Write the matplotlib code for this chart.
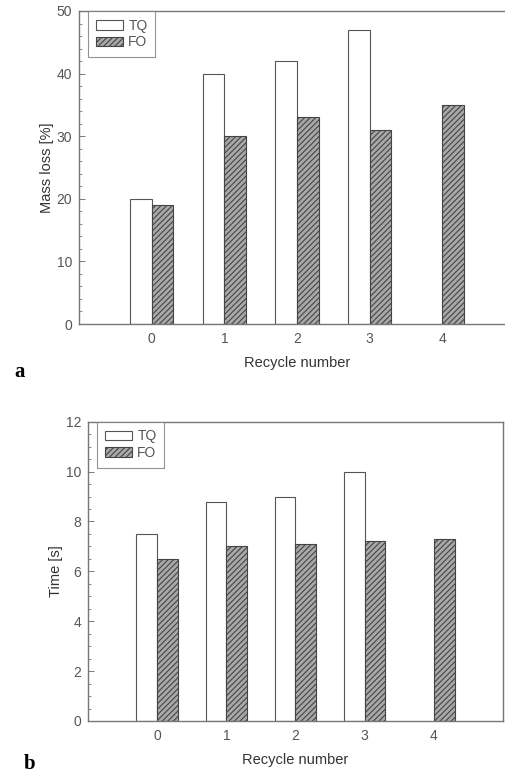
import numpy as np
import matplotlib
matplotlib.use("Agg")
import matplotlib.pyplot as plt
from matplotlib.ticker import MultipleLocator

# data
recycles = [0, 1, 2, 3, 4]
tq_recycles = [0, 1, 2, 3]
mass_loss_tq = [20, 40, 42, 47]
mass_loss_fo = [19, 30, 33, 31, 35]
time_tq = [7.5, 8.8, 9.0, 10.0]
time_fo = [6.5, 7.0, 7.1, 7.2, 7.3]

plt.rcParams['font.family'] = ['Liberation Sans', 'DejaVu Sans']
plt.rcParams['hatch.linewidth'] = 0.8
plt.rcParams['hatch.color'] = '#3a3a3a'

GREY = '#555555'
SPINE = '#777777'
W = 0.3

fig = plt.figure(figsize=(5.06, 7.73), dpi=100)
ax1 = fig.add_axes([79/506, 1-324/773, 436/506, 313/773])
ax2 = fig.add_axes([88/506, 1-721/773, 415/506, 299.3/773])


def draw(ax, tq, fo, ymax, major, minor, ylabel, leg_dx):
    x_tq = np.array(tq_recycles) - W/2
    x_fo = np.array(recycles) + W/2
    ax.bar(x_tq, tq, width=W, color='white', edgecolor='#555555',
           linewidth=0.8, label='TQ')
    ax.bar(x_fo, fo, width=W, color='#a8a8a8', edgecolor='#444444',
           linewidth=0.8, hatch='//////', label='FO')
    ax.set_xlim(-1, 5)
    ax.set_ylim(0, ymax)
    ax.set_xticks(recycles)
    ax.yaxis.set_major_locator(MultipleLocator(major))
    ax.yaxis.set_minor_locator(MultipleLocator(minor))
    ax.tick_params(axis='y', which='both', direction='in', colors=SPINE,
                   labelcolor=GREY, labelsize=10, right=False, pad=5)
    ax.tick_params(axis='y', which='major', length=4, width=0.7)
    ax.tick_params(axis='y', which='minor', length=2.5, width=0.6)
    ax.tick_params(axis='x', length=0, labelcolor=GREY, labelsize=10, pad=6)
    for s in ax.spines.values():
        s.set_color(SPINE)
        s.set_linewidth(1.0)
    ax.set_xlabel('Recycle number', color='#333333', fontsize=10.5, labelpad=7)
    ax.set_ylabel(ylabel, color='#333333', fontsize=10.5, labelpad=2)
    leg = ax.legend(loc='upper left', bbox_to_anchor=(leg_dx, 1.0),
                    fontsize=10, frameon=True, fancybox=False,
                    handlelength=2.0, handleheight=0.7, borderpad=0.55,
                    labelspacing=0.2, handletextpad=0.35, borderaxespad=0)
    leg.get_frame().set_edgecolor(SPINE)
    leg.get_frame().set_linewidth(0.8)
    for t in leg.get_texts():
        t.set_color(GREY)


draw(ax1, mass_loss_tq, mass_loss_fo, 50, 10, 2, 'Mass loss [%]', 9/436)
draw(ax2, time_tq, time_fo, 12, 2, 0.5, 'Time [s]', 9/415)

fig.text(14/506, 1-372/773, 'a', fontsize=15, fontweight='bold',
         family='Liberation Serif', ha='left', va='center')
fig.text(24/506, 1-764/773, 'b', fontsize=15, fontweight='bold',
         family='Liberation Serif', ha='left', va='center')

fig.savefig('out.png', dpi=100)
